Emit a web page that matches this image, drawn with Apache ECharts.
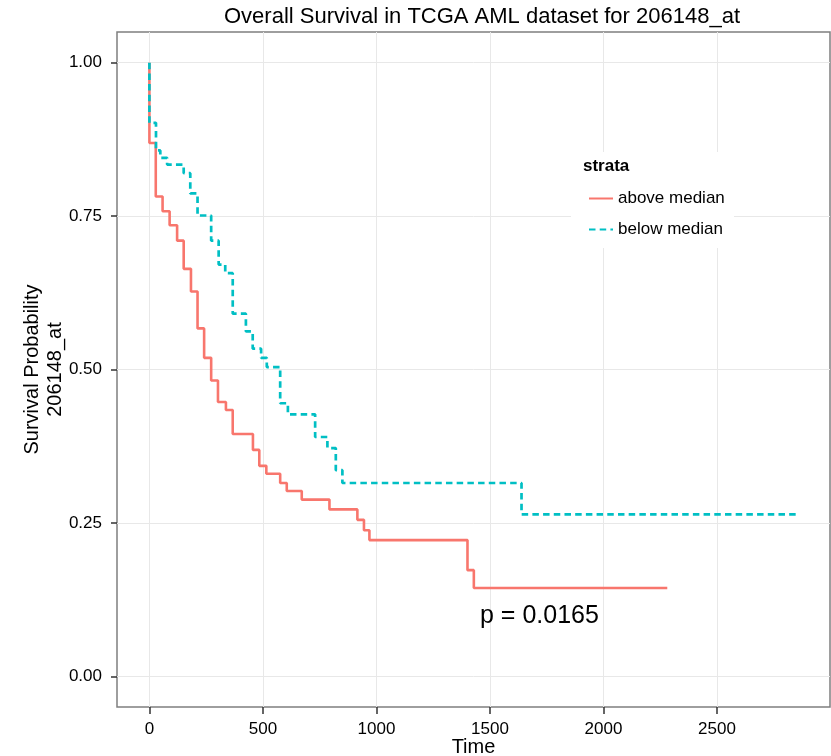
<!DOCTYPE html>
<html>
<head>
<meta charset="utf-8">
<script src="https://cdn.jsdelivr.net/npm/echarts@6/dist/echarts.min.js"></script>
<style>
  html, body { margin: 0; padding: 0; background: #fff; }
  #chart { width: 831px; height: 756px; }
</style>
</head>
<body>
<div id="chart"></div>
<script>
// Kaplan-Meier steps
var aboveTimes = [0, 28, 58, 89, 122, 151, 183, 212, 241, 272, 302, 337, 367, 456, 484, 515, 576, 605, 671, 793, 916, 945, 969, 1401, 1429];
var aboveSurv  = [0.869, 0.782, 0.758, 0.735, 0.710, 0.664, 0.627, 0.567, 0.519, 0.482, 0.447, 0.434, 0.395, 0.369, 0.343, 0.330, 0.315, 0.302, 0.288, 0.272, 0.255, 0.238, 0.222, 0.173, 0.144];
var aboveEnd = 2281;

var belowTimes = [0, 29, 48, 78, 151, 180, 212, 272, 305, 334, 367, 425, 455, 492, 517, 576, 610, 730, 784, 821, 850, 1639];
var belowSurv  = [0.902, 0.857, 0.845, 0.834, 0.820, 0.787, 0.751, 0.710, 0.671, 0.657, 0.591, 0.562, 0.534, 0.519, 0.504, 0.445, 0.427, 0.390, 0.372, 0.336, 0.315, 0.264];
var belowEnd = 2855;

var xTicks = [0, 500, 1000, 1500, 2000, 2500];
var yTicks = [0, 0.25, 0.5, 0.75, 1];
var groups = ['above median', 'below median'];

function kmData(times, surv, end) {
    var d = [[0, 1]];
    for (var i = 0; i < times.length; i++) d.push([times[i], surv[i]]);
    d.push([end, surv[surv.length - 1]]);
    return d;
}

var font = 'Liberation Sans, Arial, Helvetica, sans-serif';
var chart = echarts.init(document.getElementById('chart'));

chart.setOption({
    animation: false,
    backgroundColor: '#fff',
    title: {
        text: 'Overall Survival in TCGA AML dataset for 206148_at',
        left: 219, top: 1,
        textStyle: { fontFamily: font, fontSize: 22, fontWeight: 'normal', color: '#000' }
    },
    grid: {
        left: 117, top: 32, width: 713, height: 675,
        outerBoundsMode: 'none', containLabel: false,
        show: true, borderColor: '#7f7f7f', borderWidth: 1.5, backgroundColor: '#fff'
    },
    xAxis: {
        type: 'value', min: -142.75, max: 2997.75,
        name: 'Time', nameLocation: 'middle', nameGap: 30, nameMoveOverlap: false,
        nameTextStyle: { fontFamily: font, fontSize: 20, color: '#000' },
        axisLine: { show: false, onZero: false },
        axisTick: { show: true, length: 7, customValues: xTicks, lineStyle: { color: '#333', width: 1.5 } },
        axisLabel: {
            customValues: xTicks, margin: 14, fontFamily: font, fontSize: 17, color: '#000',
            formatter: function (v) { return String(v); }
        },
        splitLine: { show: true, lineStyle: { color: '#e8e8e8', width: 1 } }
    },
    yAxis: {
        type: 'value', min: -0.05, max: 1.05,
        name: 'Survival Probability\n206148_at', nameLocation: 'middle', nameGap: 50,
        nameRotate: 90, nameMoveOverlap: false,
        nameTextStyle: { fontFamily: font, fontSize: 20, color: '#000', lineHeight: 23 },
        axisLine: { show: false, onZero: false },
        axisTick: { show: true, length: 6, customValues: yTicks, lineStyle: { color: '#333', width: 1.5 } },
        axisLabel: {
            customValues: yTicks, margin: 15, fontFamily: font, fontSize: 17, color: '#000',
            formatter: function (v) { return v.toFixed(2); }
        },
        splitLine: { show: true, lineStyle: { color: '#e8e8e8', width: 1 } }
    },
    legend: {
        data: groups,
        orient: 'vertical', left: 583, top: 185, itemGap: 14,
        itemWidth: 24, itemHeight: 14, z: 10,
        itemStyle: { opacity: 0 },
        textStyle: { fontFamily: font, fontSize: 17, color: '#000' }
    },
    graphic: [
        { type: 'rect', z: 3, shape: { x: 571, y: 152, width: 163, height: 96 }, style: { fill: '#fff' } },
        { type: 'text', z: 4, x: 583, y: 166,
          style: { text: 'strata', font: 'bold 17px ' + font, fill: '#000', textVerticalAlign: 'middle' } },
        { type: 'text', z: 4, x: 480, y: 616,
          style: { text: 'p = 0.0165', font: '25px ' + font, fill: '#000', textVerticalAlign: 'middle' } }
    ],
    series: [{
        name: groups[0], type: 'line', step: 'end', showSymbol: false, symbol: 'none',
        color: '#F8766D',
        lineStyle: { color: '#F8766D', width: 2.6 },
        data: kmData(aboveTimes, aboveSurv, aboveEnd)
    }, {
        name: groups[1], type: 'line', step: 'end', showSymbol: false, symbol: 'none',
        color: '#00BFC4',
        lineStyle: { color: '#00BFC4', width: 2.7, type: [6.5, 4.2] },
        data: kmData(belowTimes, belowSurv, belowEnd)
    }]
});
</script>
</body>
</html>
